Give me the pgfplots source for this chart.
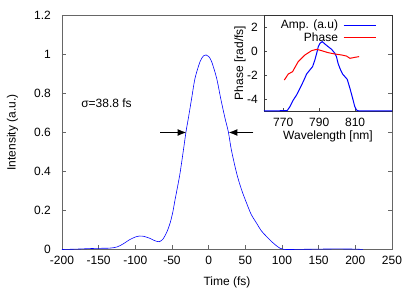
\documentclass[border=0pt,12pt]{standalone}
\usepackage{pgfplots}
\pgfplotsset{compat=1.18}
\usepackage{fontspec}
\setmainfont{Liberation Sans}
\usetikzlibrary{arrows.meta}
\begin{document}
\begin{tikzpicture}
\path[use as bounding box] (-62pt,-41.5pt) rectangle (353pt,249.5pt);
\begin{axis}[
  at={(0pt,0pt)}, anchor=south west,
  scale only axis, width=330pt, height=234pt,
  xmin=-200, xmax=250, ymin=0, ymax=1.2,
  xtick={-200,-150,...,250},
  ytick={0,0.2,0.4,0.6,0.8,1,1.2},
  yticklabels={0,0.2,0.4,0.6,0.8,1,1.2},
  xtick pos=bottom, ytick pos=both,
  tick align=inside, major tick length=4pt,
  axis line style={black!60, line width=0.7pt},
  tick style={black!60, line width=0.6pt},
  /pgf/number format/assume math mode=true,
  yticklabel style={xshift=-7pt},
  xticklabel style={yshift=-2pt},
  xlabel={Time (fs)}, ylabel={Intensity (a.u.)},
  xlabel style={at={(axis description cs:0.5,-0.14)}, anchor=center},
  ylabel style={at={(axis description cs:-0.15,0.5)}, anchor=center},
]
\addplot[blue, line width=0.6pt, smooth] coordinates {
(-200,0) (-180,0.002) (-160,0.005) (-150,0.006) (-135,0.007) (-125,0.013)
(-116,0.03) (-108,0.05) (-100,0.064) (-94,0.069) (-88,0.067) (-80,0.057)
(-74,0.046) (-67.4,0.04) (-62,0.055) (-57,0.09) (-52.7,0.134) (-49,0.19)
(-45.9,0.254) (-42.5,0.32) (-39.1,0.39) (-34.6,0.505) (-30.9,0.604)
(-27.7,0.673) (-23.2,0.775) (-18.6,0.878) (-11.8,0.963) (-7,0.993)
(-3.6,0.998) (0,0.99) (4.1,0.963) (10.9,0.878) (16.4,0.775) (22.3,0.673)
(26.8,0.604) (31,0.51) (38.2,0.39) (45,0.305) (51.8,0.237) (58,0.18)
(65.5,0.134) (72,0.095) (79.1,0.066) (86,0.04) (92.8,0.018) (97,0.007)
(102,0.001) (110,0) (130,0.001) (150,0.002) (175,0.003) (200,0.002) (210,0)
};
\draw[-{Latex[length=9pt,width=7pt]}, line width=1.6pt] (axis cs:-66,0.6) -- (axis cs:-30,0.6);
\draw[-{Latex[length=9pt,width=7pt]}, line width=1.6pt] (axis cs:61,0.6) -- (axis cs:26.8,0.6);
\node[anchor=west, inner sep=0pt] at (axis cs:-174,0.75) {σ=38.8 fs};
\end{axis}
\begin{axis}[
  at={(202pt,138.5pt)}, anchor=south west,
  scale only axis, width=128pt, height=96pt,
  xmin=759.3, xmax=830.5, ymin=-5, ymax=3,
  xtick={770,790,810}, ytick={-4,-2,0,2},
  xtick pos=bottom, ytick pos=left,
  tick align=inside, major tick length=3pt,
  axis line style={black!80, line width=0.7pt},
  tick style={black!70, line width=0.6pt},
  /pgf/number format/assume math mode=true,
  yticklabel style={xshift=-2pt},
  xticklabel style={yshift=-3pt},
  xlabel={Wavelength [nm]}, ylabel={Phase [rad/fs]},
  xlabel style={at={(axis description cs:0.5,-0.265)}, anchor=center},
  ylabel style={at={(axis description cs:-0.1875,0.5)}, anchor=center},
  clip=false,
  legend plot pos=right,
  legend cell align=right,
  legend image post style={xscale=1.9},
  legend style={draw=none, fill=none, anchor=north east,
    at={(axis description cs:0.88,0.96)}, inner sep=0pt,
    nodes={inner sep=1pt}, column sep=4pt, row sep=0pt},
]
\addplot[blue, line width=1pt] coordinates {
(759.3,-5) (772.2,-4.97) (773.7,-4.64) (775.6,-4.08) (777.4,-3.67)
(779.3,-3.11) (781.1,-2.56) (783.0,-1.92) (784.8,-1.58) (786.3,-1.31)
(787.6,-0.75) (788.6,-0.19) (789.5,0.36) (790.4,0.64) (791.7,0.78)
(793.2,0.58) (795,0.36) (796.9,0.14) (798.7,-0.19) (799.6,-0.47)
(800.5,-1.03) (801.5,-1.44) (803,-1.92) (804.3,-2.14) (805.6,-2.36)
(807.1,-3.11) (808.6,-3.94) (809.8,-4.64) (810.8,-4.92) (812,-5) (830.5,-5)
};
\addlegendentry{Amp. (a.u)}
\addplot[red, line width=1pt] coordinates {
(770.6,-2.42) (772.8,-1.92) (775.2,-1.72) (778.3,-0.89) (782.1,-0.33)
(785.8,0.03) (788.6,0.14) (791.3,0.03) (795,-0.14) (798.7,-0.25)
(802.4,-0.33) (805.2,-0.42) (807.1,-0.61) (809.8,-0.53) (812.2,-0.47)
};
\addlegendentry{Phase}
\end{axis}
\end{tikzpicture}
\end{document}
